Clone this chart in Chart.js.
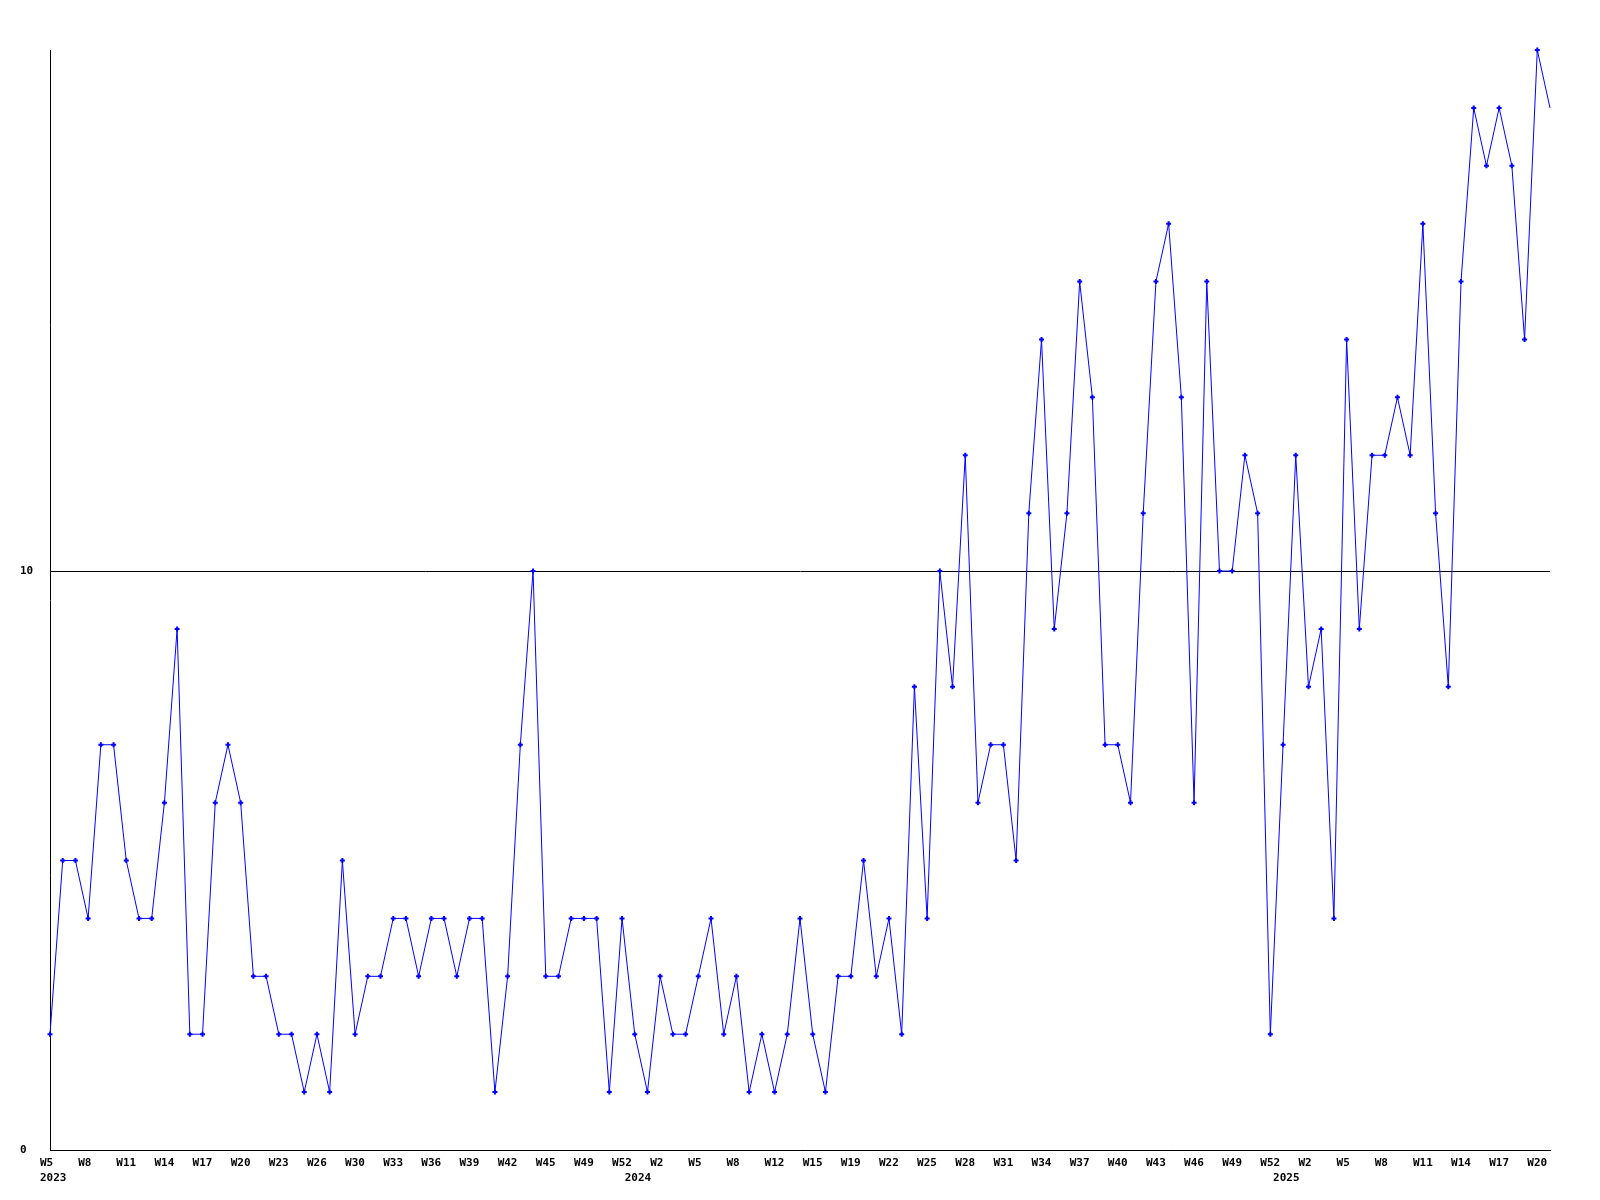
<!DOCTYPE html>
<html>
<head>
<meta charset="utf-8">
<script src="https://cdn.jsdelivr.net/npm/chart.js@4/dist/chart.umd.min.js"></script>
<style>
  html, body { margin: 0; padding: 0; background: #ffffff; }
  #wrap { width: 1600px; height: 1200px; }
</style>
</head>
<body>
<div id="wrap"><canvas id="c" width="1600" height="1200"></canvas></div>
<script>
// Week categories (one per data point)
const categories = [
  "2023-W5","2023-W6","2023-W7","2023-W8","2023-W9","2023-W10","2023-W11","2023-W12","2023-W13","2023-W14",
  "2023-W15","2023-W16","2023-W17","2023-W18","2023-W19","2023-W20","2023-W21","2023-W22","2023-W23","2023-W24",
  "2023-W25","2023-W26","2023-W27","2023-W29","2023-W30","2023-W31","2023-W32","2023-W33","2023-W34","2023-W35",
  "2023-W36","2023-W37","2023-W38","2023-W39","2023-W40","2023-W41","2023-W42","2023-W43","2023-W44","2023-W45",
  "2023-W46","2023-W48","2023-W49","2023-W50","2023-W51","2023-W52",
  "2024-W0","2024-W1","2024-W2","2024-W3","2024-W4","2024-W5","2024-W6","2024-W7","2024-W8","2024-W9",
  "2024-W10","2024-W12","2024-W13","2024-W14","2024-W15","2024-W16","2024-W17","2024-W19","2024-W20","2024-W21",
  "2024-W22","2024-W23","2024-W24","2024-W25","2024-W26","2024-W27","2024-W28","2024-W29","2024-W30","2024-W31",
  "2024-W32","2024-W33","2024-W34","2024-W35","2024-W36","2024-W37","2024-W38","2024-W39","2024-W40","2024-W41",
  "2024-W42","2024-W43","2024-W44","2024-W45","2024-W46","2024-W47","2024-W48","2024-W49","2024-W50","2024-W51",
  "2024-W52",
  "2025-W0","2025-W1","2025-W2","2025-W3","2025-W4","2025-W5","2025-W6","2025-W7","2025-W8","2025-W9",
  "2025-W10","2025-W11","2025-W12","2025-W13","2025-W14","2025-W15","2025-W16","2025-W17","2025-W18","2025-W19",
  "2025-W20","2025-W21"
];

// Weekly counts
const counts = [
  2,5,5,4,7,7,5,4,4,6,
  9,2,2,6,7,6,3,3,2,2,
  1,2,1,5,2,3,3,4,4,3,
  4,4,3,4,4,1,3,7,10,3,
  3,4,4,4,1,4,2,1,3,2,
  2,3,4,2,3,1,2,1,2,4,
  2,1,3,3,5,3,4,2,8,4,
  10,8,12,6,7,7,5,11,14,9,
  11,15,13,7,7,6,11,15,16,13,
  6,15,10,10,12,11,2,7,12,8,
  9,4,14,9,12,12,13,12,16,11,
  8,15,18,17,18,17,14,19,18
];

// Categories that get a visible week label on the x axis
const tickLabels = [
  "2023-W5","2023-W8","2023-W11","2023-W14","2023-W17","2023-W20","2023-W23","2023-W26","2023-W30","2023-W33",
  "2023-W36","2023-W39","2023-W42","2023-W45","2023-W49","2023-W52",
  "2024-W2","2024-W5","2024-W8","2024-W12","2024-W15","2024-W19","2024-W22","2024-W25","2024-W28","2024-W31",
  "2024-W34","2024-W37","2024-W40","2024-W43","2024-W46","2024-W49","2024-W52",
  "2025-W2","2025-W5","2025-W8","2025-W11","2025-W14","2025-W17","2025-W20"
];

// Categories under which the year is written
const yearStarts = ["2023-W5","2024-W0","2025-W0"];

// Y axis
const yMin = 0, yMax = 19, yStep = 10;

const FONT = { family: "'DejaVu Sans Mono', monospace", size: 11, weight: 'bold', lineHeight: 1.35 };

new Chart(document.getElementById('c'), {
  type: 'line',
  data: {
    labels: categories,
    datasets: [{
      data: counts,
      borderColor: '#0000ff',
      backgroundColor: '#0000ff',
      borderWidth: 1,
      tension: 0,
      fill: false,
      clip: false,
      pointStyle: 'cross',
      pointRadius: (ctx) => ctx.dataIndex === counts.length - 1 ? 0 : 2.5,
      pointBorderWidth: 2,
      pointBorderColor: '#0000ff',
      pointHoverRadius: 0
    }]
  },
  options: {
    responsive: false,
    animation: false,
    events: [],
    layout: { padding: { left: 20, top: 50, right: 50, bottom: 0 } },
    plugins: { legend: { display: false }, tooltip: { enabled: false }, title: { display: false } },
    scales: {
      x: {
        type: 'category',
        offset: false,
        grid: { display: false, drawTicks: false },
        border: { display: true, color: '#000000', width: 1 },
        afterFit: (s) => { s.height = 50; },
        ticks: {
          autoSkip: false,
          maxRotation: 0,
          minRotation: 0,
          align: 'start',
          labelOffset: -10,
          padding: 6,
          color: '#000000',
          font: FONT,
          callback: function (value, index) {
            const key = categories[index];
            const parts = key.split('-');
            const wk = tickLabels.includes(key) ? parts[1] : '';
            if (yearStarts.includes(key)) return [wk, parts[0]];
            return wk;
          }
        }
      },
      y: {
        min: yMin,
        max: yMax,
        grid: { display: true, color: '#000000', lineWidth: 1, drawTicks: false },
        border: { display: true, color: '#000000', width: 1 },
        afterFit: (s) => { s.width = 30; },
        ticks: {
          stepSize: yStep,
          includeBounds: false,
          crossAlign: 'far',
          padding: 0,
          color: '#000000',
          font: FONT
        }
      }
    }
  }
});
</script>
</body>
</html>
